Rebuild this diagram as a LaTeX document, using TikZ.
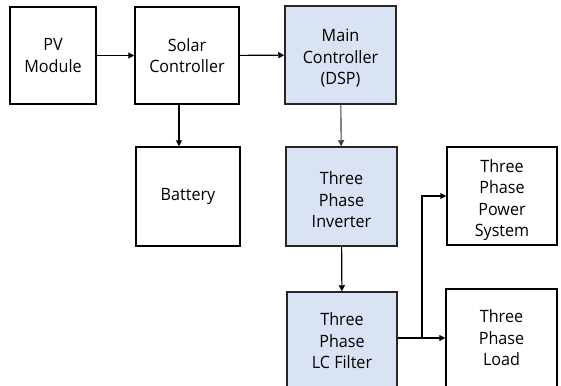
\documentclass[tikz,border=0pt]{standalone}
\usepackage{fontspec}
\setmainfont{Open Sans}[FakeStretch=0.95]
\usetikzlibrary{arrows.meta,calc}
\definecolor{boxblue}{HTML}{DAE3F3}
\begin{document}
\begin{tikzpicture}[x=1pt,y=-1pt,
  txt/.style={align=center,inner sep=0pt,font=\fontsize{17}{21.5}\selectfont},
  box/.style={draw=black,line width=1.5pt,fill=white,inner sep=0pt,txt},
  bluebox/.style={box,fill=boxblue,draw=black!85},
  arr/.style={line width=1.1pt,-{Triangle[length=6pt,width=6pt]}}]
\useasboundingbox (0,0) rectangle (561,385);
\clip (0,0) rectangle (561,385);
\node[box,minimum width=86pt,minimum height=97pt] (pv) at (53,55.5) {PV\\Module};
\node[box,minimum width=104pt,minimum height=97pt] (solar) at (187,55.5) {Solar\\Controller};
\node[bluebox,minimum width=111pt,minimum height=98pt,
  label={[txt,yshift=-3.5pt]center:{Main\\Controller\\(DSP)}}] (main) at (340.5,55) {};
\node[box,minimum width=104pt,minimum height=99pt] (bat) at (188,196.5) {Battery};
\node[bluebox,minimum width=111pt,minimum height=99pt,
  label={[txt,yshift=-3.5pt]center:{Three\\Phase\\Inverter}}] (inv) at (341.5,196.5) {};
\node[box,minimum width=110pt,minimum height=98pt,
  label={[txt,yshift=-4pt]center:{Three\\Phase\\Power\\System}}] (pow) at (502,196) {};
\node[bluebox,minimum width=110pt,minimum height=98pt] (lc) at (342,341) {Three\\Phase\\LC Filter};
\node[box,minimum width=111pt,minimum height=98pt] (load) at (501.5,338) {Three\\Phase\\Load};
\coordinate (sb) at (179,0);
\coordinate (br) at (422,338);
\draw[arr] (pv) -- (solar);
\draw[arr] (solar) -- (main);
\draw[arr] (solar.south -| sb) -- (bat.north -| sb);
\draw[arr,draw=black!75] (main) -- (inv);
\draw[arr] (inv) -- (lc);
\draw[arr] (lc.east |- load.west) -- (load.west);
\draw[arr] (br) |- (pow.west);
\end{tikzpicture}
\end{document}
